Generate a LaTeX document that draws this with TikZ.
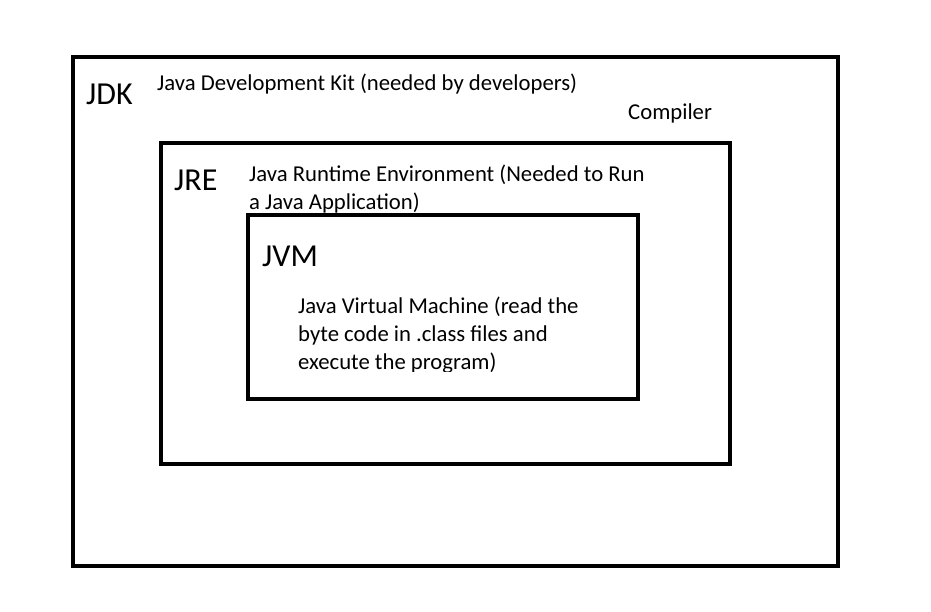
\documentclass[tikz,border=0pt]{standalone}
\usepackage{fontspec}
\setmainfont{Carlito}
\tikzset{box/.style={draw, line width=4.6pt},
  big/.style={inner sep=0pt, anchor=base west, font=\fontsize{32}{38}\selectfont},
  txt/.style={inner sep=0pt, anchor=base west, align=left, font=\fontsize{22.7}{28}\selectfont}}

\begin{document}
\begin{tikzpicture}[x=1pt, y=-1pt]
    \useasboundingbox (0,0) rectangle (931,611);

    \coordinate (jdka) at (73,57);
    \coordinate (jdkb) at (838,566);
    \coordinate (jrea) at (161,143);
    \coordinate (jreb) at (730,464);
    \coordinate (jvma) at (248,215);
    \coordinate (jvmb) at (638,399);

    \draw[box] (jdka) rectangle (jdkb);
    \draw[box] (jrea) rectangle (jreb);
    \draw[box] (jvma) rectangle (jvmb);

    % labels, base of the last line given
    \node (jdk) at (86,104) [big] {JDK};
    \node (jdkt) at (157,90) [txt] {Java Development Kit (needed by developers)};
    \node (comp) at (628,119) [txt] {Compiler};

    \node (jre) at (174,190) [big] {JRE};
    \node (jret) at (249,209) [txt] {Java Runtime Environment (Needed to Run\\a Java Application)};

    \node (jvm) at (262,266) [big] {JVM};
    \begin{scope}
        \clip (jvma) rectangle (639,371);
        \node (jvmt) at (298,369) [txt] {Java Virtual Machine (read the\\byte code in .class files and\\execute the program)};
    \end{scope}
\end{tikzpicture}
\end{document}
